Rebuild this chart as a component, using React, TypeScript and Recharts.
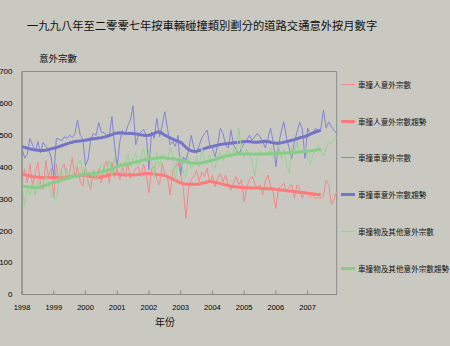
import { LineChart, Line, XAxis, YAxis, ReferenceArea, Legend } from 'recharts'

const years = ['1998', '1999', '2000', '2001', '2002', '2003', '2004', '2005', '2006', '2007']
const yTicks = [0, 100, 200, 300, 400, 500, 600, 700]

// monthly figures, Jan 1998 - Dec 2007
const pedestrian = [
  360, 395, 350, 410, 340, 380, 415, 350, 330, 420, 370, 395,
  305, 410, 350, 395, 410, 360, 380, 430, 370, 400, 355, 340,
  400, 355, 330, 390, 360, 395, 350, 400, 420, 350, 415, 370,
  395, 360, 400, 370, 410, 365, 380, 395, 400, 370, 410, 375,
  318, 395, 401, 360, 344, 411, 380, 370, 312, 390, 400, 417,
  380, 330, 239, 333, 360, 370, 390, 355, 385, 370, 396, 350,
  375, 338, 365, 380, 354, 375, 344, 328, 350, 370, 345, 360,
  291, 338, 360, 370, 350, 333, 345, 312, 355, 375, 340, 320,
  270, 333, 340, 349, 323, 338, 344, 302, 344, 330, 302, 323,
  318, 307, 312, 300, 305, 302, 308, 359, 345, 281, 300, 323,
]
const pedestrianTrend = [
  377, 376, 374, 372, 370, 369, 368, 367, 367, 367, 367, 367,
  367, 367, 367, 368, 368, 369, 370, 371, 372, 373, 374, 375,
  374, 372, 370, 369, 368, 368, 369, 371, 373, 375, 377, 378,
  378, 377, 376, 375, 375, 375, 375, 376, 377, 378, 379, 380,
  380, 379, 378, 377, 376, 375, 373, 370, 366, 362, 358, 354,
  350, 348, 347, 346, 346, 346, 346, 347, 349, 351, 353, 355,
  354, 352, 350, 348, 346, 344, 342, 340, 339, 338, 337, 336,
  336, 335, 335, 334, 334, 334, 333, 333, 333, 332, 332, 331,
  330, 329, 328, 327, 326, 325, 324, 323, 322, 321, 320, 319,
  318, 317, 316, 315, 314, 314,
]
const vehicle = [
  460, 428, 440, 490, 470, 448, 480, 444, 478, 465, 455, 432,
  370, 490, 488, 482, 495, 490, 500, 492, 505, 548, 500, 488,
  405, 425, 488, 505, 500, 540, 510, 508, 500, 498, 558, 470,
  400, 480, 515, 500, 530, 548, 592, 470, 500, 510, 518, 500,
  392, 510, 490, 553, 495, 530, 574, 522, 470, 480, 465, 500,
  375, 432, 422, 453, 500, 460, 443, 469, 491, 505, 516, 469,
  460, 432, 470, 522, 506, 470, 460, 516, 469, 455, 438, 460,
  474, 485, 500, 485, 495, 506, 495, 480, 460, 490, 522, 480,
  401, 469, 510, 542, 491, 460, 427, 480, 511, 540, 520, 427,
  522, 500, 505, 522, 515, 520, 579, 522, 542, 527, 515, 506,
]
const vehicleTrend = [
  465, 462, 459, 457, 455, 454, 453, 452, 452, 453, 455, 457,
  459, 461, 464, 467, 470, 473, 476, 478, 480, 481, 482, 483,
  484, 486, 488, 489, 490, 491, 492, 494, 496, 499, 502, 505,
  507, 508, 507, 506, 505, 505, 505, 504, 503, 501, 500, 499,
  500, 502, 506, 510, 510, 506, 500, 496, 492, 488, 484, 481,
  478, 470, 462, 455, 451, 449, 450, 452, 455, 458, 461, 463,
  465, 467, 469, 471, 472, 473, 474, 475, 476, 477, 478, 479,
  480, 480, 480, 479, 478, 478, 479, 480, 481, 480, 478, 476,
  475, 475, 476, 478, 480, 482, 484, 486, 489, 492, 494, 496,
  499, 503, 507, 510, 513, 516,
]
const objects = [
  340, 275, 330, 312, 350, 312, 360, 330, 345, 375, 355, 312,
  302, 300, 360, 385, 355, 396, 360, 375, 391, 410, 422, 380,
  401, 344, 354, 385, 360, 375, 412, 400, 380, 422, 370, 432,
  395, 410, 417, 400, 443, 401, 425, 443, 405, 430, 459, 415,
  454, 417, 370, 445, 400, 440, 430, 420, 460, 445, 359, 420,
  440, 380, 370, 430, 395, 410, 432, 400, 459, 425, 410, 440,
  401, 395, 438, 445, 420, 443, 450, 430, 455, 440, 522, 450,
  430, 455, 440, 420, 370, 430, 450, 435, 445, 440, 460, 430,
  440, 469, 427, 455, 410, 380, 460, 440, 480, 445, 450, 465,
  430, 406, 440, 450, 470, 455, 432, 460, 480, 475, 490, 492,
]
const objectsTrend = [
  340, 339, 338, 337, 336, 335, 336, 338, 340, 343, 346, 349,
  352, 354, 357, 360, 362, 365, 367, 369, 371, 373, 375, 376,
  377, 378, 379, 380, 381, 383, 385, 387, 389, 392, 395, 398,
  401, 404, 406, 408, 410, 412, 414, 416, 418, 420, 422, 424,
  425, 426, 427, 428, 430, 430, 429, 428, 427, 426, 425, 423,
  421, 419, 417, 415, 413, 412, 412, 412, 413, 415, 417, 419,
  421, 424, 427, 430, 432, 434, 436, 438, 439, 440, 441, 441,
  441, 441, 441, 441, 441, 441, 441, 441, 441, 442, 442, 442,
  443, 443, 443, 444, 444, 444, 445, 445, 446, 447, 448, 449,
  450, 451, 452, 453, 455, 456,
]

const rows = pedestrian.map((v, i) => ({
  m: i,
  ped: v,
  pedT: pedestrianTrend[i] ?? null,
  veh: vehicle[i],
  vehT: vehicleTrend[i] ?? null,
  obj: objects[i],
  objT: objectsTrend[i] ?? null,
}))

const series = [
  { key: 'ped', name: '車撞人意外宗數', color: '#f48888', width: 1 },
  { key: 'pedT', name: '車撞人意外宗數趨勢', color: '#ff7b7b', width: 3 },
  { key: 'veh', name: '車撞車意外宗數', color: '#8484d6', width: 1 },
  { key: 'vehT', name: '車撞車意外宗數趨勢', color: '#7474c8', width: 3 },
  { key: 'obj', name: '車撞物及其他意外宗數', color: '#94d494', width: 1 },
  { key: 'objT', name: '車撞物及其他意外宗數趨勢', color: '#88cc88', width: 3 },
]

const cjk = '"Noto Sans CJK TC", "Noto Sans CJK SC", sans-serif'
const latin = '"Liberation Sans", Arial, sans-serif'

function LegendBox() {
  return (
    <div style={{ fontFamily: cjk, fontSize: 7.6, color: '#111' }}>
      {series.map(s => (
        <div key={s.key} style={{ height: 36.8, display: 'flex', alignItems: 'center', whiteSpace: 'nowrap' }}>
          <span style={{ display: 'inline-block', width: 14, height: s.width, background: s.color, marginRight: 3 }} />
          {s.name}
        </div>
      ))}
    </div>
  )
}

export default function App() {
  return (
    <div style={{ position: 'absolute', left: 0, top: 0, width: 450, height: 346, background: '#c9c9c1', overflow: 'hidden' }}>
      <div style={{ position: 'absolute', left: 27, top: 19, fontFamily: cjk, fontSize: 11.3, lineHeight: '12px', color: '#111', whiteSpace: 'nowrap' }}>
        一九九八年至二零零七年按車輛碰撞類別劃分的道路交通意外按月數字
      </div>
      <div style={{ position: 'absolute', left: 39, top: 53, fontFamily: cjk, fontSize: 9.5, lineHeight: '10px', color: '#111' }}>
        意外宗數
      </div>
      <div style={{ position: 'absolute', left: 155, top: 316, fontFamily: cjk, fontSize: 10, lineHeight: '12px', color: '#111' }}>
        年份
      </div>
      <LineChart width={450} height={346} data={rows} margin={{ top: 71.5, right: 113.3, left: 2, bottom: 31.5 }}>
        <XAxis
          dataKey="m"
          type="number"
          domain={[0, 119]}
          ticks={years.map((_, i) => i * 12)}
          tickFormatter={(v: number) => years[v / 12]}
          tick={{ fontSize: 7.5, fill: '#000', fontFamily: latin }}
          tickSize={-4}
          tickMargin={14}
          stroke="#8a8a8a"
          height={20}
          interval={0}
        />
        <YAxis
          domain={[0, 700]}
          ticks={yTicks}
          tick={{ fontSize: 8, fill: '#000', fontFamily: latin }}
          tickLine={false}
          tickSize={6}
          tickMargin={3.5}
          stroke="#8a8a8a"
          width={20}
          interval={0}
        />
        <ReferenceArea x1={0} x2={119} y1={0} y2={700} fill="none" stroke="#8a8a8a" strokeWidth={1} />
        {series.map(s => (
          <Line
            key={s.key}
            dataKey={s.key}
            name={s.name}
            stroke={s.color}
            strokeWidth={s.width}
            dot={false}
            activeDot={false}
            type="linear"
            isAnimationActive={false}
          />
        ))}
        <Legend
          layout="vertical"
          align="center"
          verticalAlign="middle"
          content={() => <LegendBox />}
          wrapperStyle={{ left: 341, top: 66, width: 120 }}
        />
      </LineChart>
    </div>
  )
}
